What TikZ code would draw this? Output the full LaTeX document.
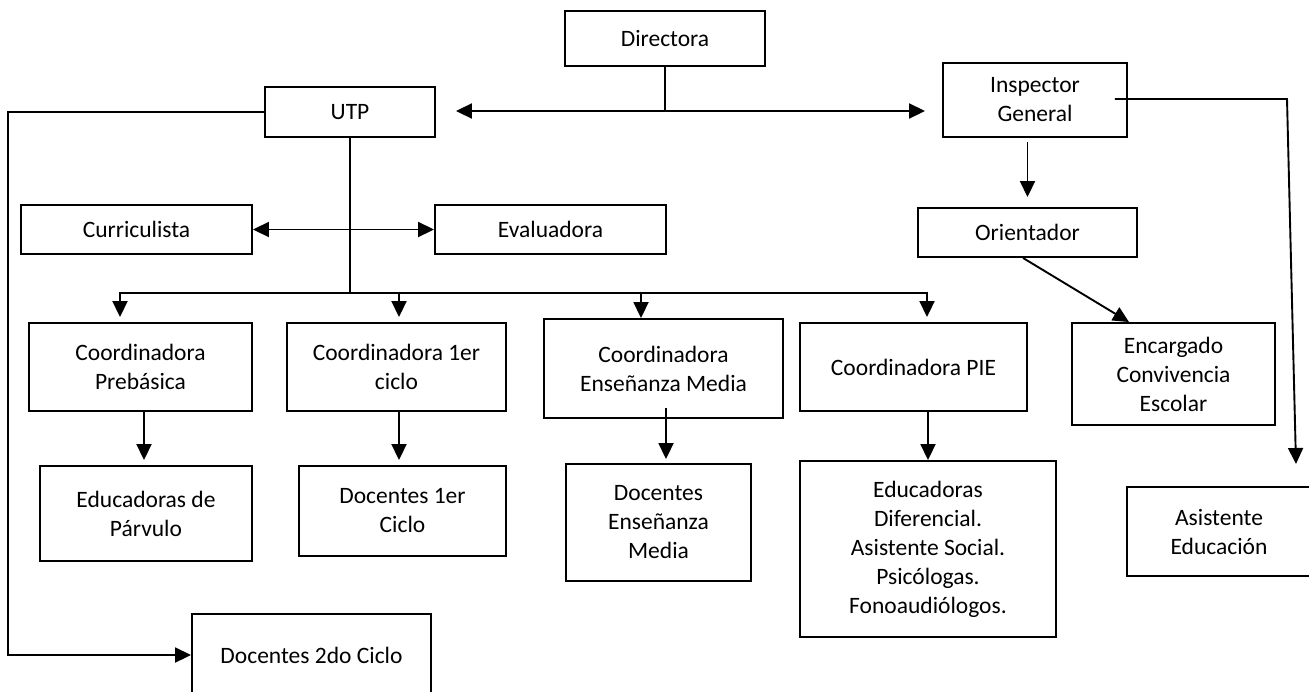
\documentclass[tikz,border=0pt]{standalone}
\usepackage{fontspec}
\setmainfont{Carlito}
\usetikzlibrary{arrows.meta}

\begin{document}
\begin{tikzpicture}[x=1pt,y=-1pt,
    caja/.style={draw, line width=1.9pt, align=center, inner sep=0pt,
      font=\fontsize{23.5}{29}\selectfont},
    linea/.style={line width=1.9pt},
    flecha/.style={line width=1.9pt, -{Triangle[length=16pt,width=15pt]}},
    dobleflecha/.style={line width=1.9pt,
      {Triangle[length=16pt,width=15pt]}-{Triangle[length=16pt,width=15pt]}}]
  \useasboundingbox (0,0) rectangle (1309,691);

  % Top level
  \node[caja, minimum width=200pt, minimum height=55pt] (dir) at (665,38.5) {Directora};
  \node[caja, minimum width=170pt, minimum height=50pt] (utp) at (350,112) {UTP};
  \node[caja, minimum width=184pt, minimum height=74pt] (insp) at (1035,100) {Inspector\\General};

  % Second level
  \node[caja, minimum width=231pt, minimum height=49pt] (cur) at (136.5,229.5) {Curriculista};
  \node[caja, minimum width=231pt, minimum height=49pt] (eva) at (550.5,229.5) {Evaluadora};
  \node[caja, minimum width=219pt, minimum height=49pt] (ori) at (1027.5,232.5) {Orientador};

  % Coordinators
  \node[caja, minimum width=223pt, minimum height=88pt] (cpre) at (140.5,367) {Coordinadora\\Prebásica};
  \node[caja, minimum width=219pt, minimum height=88pt] (c1) at (396.5,367) {Coordinadora 1er\\ciclo};
  \node[caja, minimum width=239pt, minimum height=99pt] (cem) at (663.5,368.5) {Coordinadora\\Enseñanza Media};
  \node[caja, minimum width=227pt, minimum height=88pt] (cpie) at (913.5,367) {Coordinadora PIE};
  \node[caja, minimum width=203pt, minimum height=102pt] (enc) at (1173.5,374) {Encargado\\Convivencia\\Escolar};

  % Staff
  \node[caja, minimum width=212pt, minimum height=95pt] (edp) at (146,513.5) {Educadoras de\\Párvulo};
  \node[caja, minimum width=207pt, minimum height=90pt] (d1) at (402.5,511) {Docentes 1er\\Ciclo};
  \node[caja, minimum width=185pt, minimum height=117pt] (dem) at (658.5,522.5) {Docentes\\Enseñanza\\Media};
  \node[caja, minimum width=256pt, minimum height=176pt] (pie) at (928,549) {Educadoras\\Diferencial.\\Asistente Social.\\Psicólogas.\\Fonoaudiólogos.};
  \node[caja, minimum width=184pt, minimum height=89pt] (asi) at (1219,531.5) {Asistente\\Educación};
  \node[caja, minimum width=239pt, minimum height=82pt] (d2) at (311.5,655) {Docentes 2do Ciclo};

  % Directora to UTP and Inspector
  \coordinate (j1) at (dir.south |- 0,111);
  \draw[linea] (dir.south) -- (j1);
  \draw[flecha, shorten >=20pt] (j1) -- (j1 -| utp.east);
  \draw[flecha, shorten >=17pt] (j1) -- (j1 -| insp.west);

  % UTP branches
  \draw[flecha] (utp.west) -- ++(-256,0) |- (d2.west);
  \coordinate (bus) at (utp.south |- 0,293);
  \draw[linea] (utp.south) -- (bus);
  \draw[dobleflecha] (cur) -- (eva);
  \draw[flecha, shorten >=5pt] (bus) -| ([xshift=-20.5pt]cpre.north);
  \draw[flecha, shorten >=5pt] (bus) -| ([xshift=2.5pt]c1.north);
  \draw[flecha] (bus) -| ([xshift=-22.5pt]cem.north);
  \draw[flecha, shorten >=5pt] (bus) -| ([xshift=13.5pt]cpie.north);

  % Coordinators to staff
  \draw[flecha, shorten >=5pt] ([xshift=3.5pt]cpre.south) -- ([xshift=3.5pt]cpre.south |- edp.north);
  \draw[flecha, shorten >=5pt] ([xshift=2.5pt]c1.south) -- ([xshift=2.5pt]c1.south |- d1.north);
  \draw[flecha, shorten >=4pt] ([xshift=2.5pt,yshift=11pt]cem.south) -- ([xshift=2.5pt]cem.south |- dem.north);
  \draw[flecha] (pie.north |- cpie.south) -- (pie.north);

  % Inspector side
  \draw[flecha, shorten <=4pt, shorten >=10pt] (ori.north |- insp.south) -- (ori.north);
  \draw[flecha] ([xshift=-4.5pt]ori.south) -- ([xshift=-44.5pt]enc.north);
  \coordinate (codo) at (1287,99);
  \coordinate (punta) at (1296,464);
  \draw[flecha] ([xshift=-13pt,yshift=1pt]insp.east) -- (codo) -- (punta);
\end{tikzpicture}
\end{document}
